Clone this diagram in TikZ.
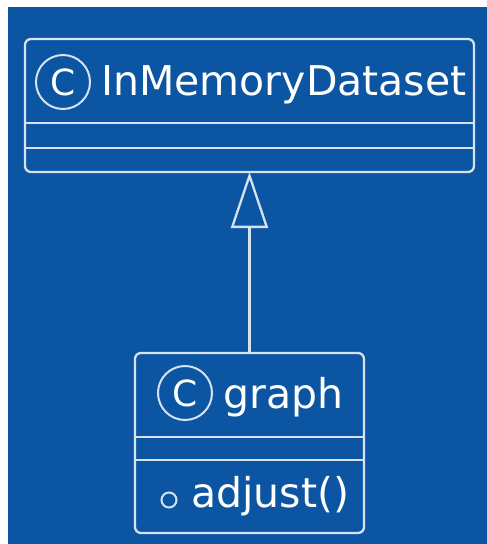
\documentclass[tikz,border=0pt]{standalone}
\usepackage{fontspec}
\setmainfont{DejaVu Sans}
\usetikzlibrary{arrows.meta,positioning,calc}
\definecolor{umlblue}{HTML}{0C55A3}
\definecolor{umlline}{HTML}{D6E2EF}

\begin{document}
\begin{tikzpicture}[x=1pt,y=1pt,cls/.style={draw=umlline,line width=2.3pt,rounded corners=6pt,inner sep=0pt,outer sep=0pt},ctag/.style={circle,draw=umlline,line width=2pt,minimum size=54pt,inner sep=0pt,text=white,font=\fontsize{36}{36}\selectfont},clsname/.style={anchor=base west,inner sep=0pt,text=white,font=\fontsize{41}{41}\selectfont},sep/.style={draw=umlline,line width=2.3pt},inh/.style={draw=umlline,line width=2.3pt,-{Triangle[open,length=56pt,width=37pt]}}]
\useasboundingbox (0,0) rectangle (487,-544);
\fill[umlblue] (8,-7) rectangle (487,-544);
% class boxes
\node[cls,minimum width=449pt,minimum height=133pt] (dataset) at (249.5,-105.5) {};
\node[cls,minimum width=229pt,minimum height=180pt] (graph) at (249.5,-443) {};
% headers
\node[ctag] (cdataset) at (63,-82) {C};
\node[clsname] (ndataset) at (101,-95) {InMemoryDataset};
\node[ctag] (cgraph) at (185,-393) {C};
\node[clsname] (ngraph) at (223,-408) {graph};
% compartments
\draw[sep] ($(dataset.north west)+(0,-84)$) -- ($(dataset.north east)+(0,-84)$);
\draw[sep] ($(dataset.north west)+(0,-109)$) -- ($(dataset.north east)+(0,-109)$);
\draw[sep] ($(graph.north west)+(0,-84)$) -- ($(graph.north east)+(0,-84)$);
\draw[sep] ($(graph.north west)+(0,-107)$) -- ($(graph.north east)+(0,-107)$);
% method
\node[circle,draw=umlline,line width=2pt,minimum size=15pt,inner sep=0pt] (pub) at (169,-500) {};
\node[clsname] (adjust) at (191,-507) {adjust()};
\draw[inh] (graph) -- (dataset);
\end{tikzpicture}
\end{document}
